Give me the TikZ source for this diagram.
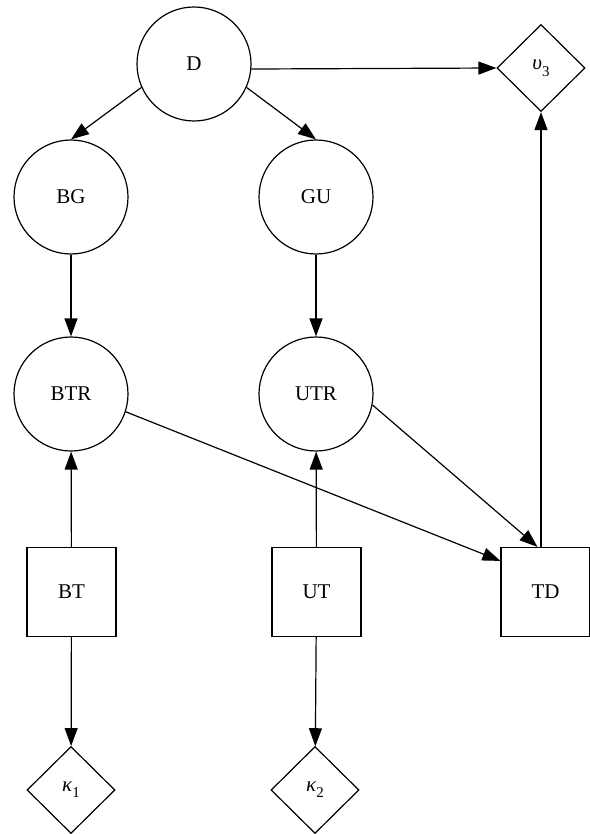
\documentclass[tikz,border=0pt]{standalone}
\usepackage{fontspec}
\setmainfont{Liberation Serif}
\usetikzlibrary{shapes.geometric,arrows.meta}
\begin{document}
\begin{tikzpicture}[x=1pt,y=-1pt,
  every node/.style={font=\fontsize{21}{25}\selectfont},
  chance/.style={circle,draw,line width=1.2pt,minimum size=114pt,inner sep=0pt},
  decision/.style={rectangle,draw,line width=1.2pt,minimum size=89pt,inner sep=0pt},
  utility/.style={diamond,draw,line width=1.2pt,minimum width=88pt,minimum height=87pt,inner sep=0pt},
  arr/.style={line width=1.2pt,-{Triangle[length=18pt,width=13pt]}}]
\newcommand{\subnum}[1]{\raisebox{-0.3em}{\fontsize{15}{15}\selectfont #1}}
\useasboundingbox (0,0) rectangle (589,834);
% chance nodes
\node[chance] (D)   at (194,64)  {D};
\node[chance] (BG)  at (71,197)  {BG};
\node[chance] (GU)  at (316,197) {GU};
\node[chance] (BTR) at (71,394)  {BTR};
\node[chance] (UTR) at (316,394) {UTR};
% decision nodes
\node[decision] (BT) at (71.5,592)  {BT};
\node[decision] (UT) at (316.5,592) {UT};
\node[decision] (TD) at (545.5,592) {TD};
% utility nodes
\node[utility] (v3) at (541,68)  {{\itshape υ}\subnum{3}};
\node[utility] (k1) at (71,790)  {{\itshape κ}\subnum{1}};
\node[utility] (k2) at (315,790) {{\itshape κ}\subnum{2}};
% arcs
\draw[arr] (D.355) -- (v3.west);
\draw[arr] (D.204) -- (BG.north);
\draw[arr] (D.336) -- (GU.north);
\draw[arr] (BG) -- (BTR);
\draw[arr] (GU) -- (UTR);
\draw[arr] (BT) -- (BTR);
\draw[arr] (UT) -- (UTR);
\draw[arr] (BT) -- (k1);
\draw[arr] (UT) -- (k2);
\draw[arr] (BTR.342) -- ([yshift=-14pt]TD.north west);
\draw[arr] (UTR.349) -- ([xshift=-8pt]TD.north);
\draw[arr] (TD.north -| v3.south) -- (v3.south);
\end{tikzpicture}
\end{document}
